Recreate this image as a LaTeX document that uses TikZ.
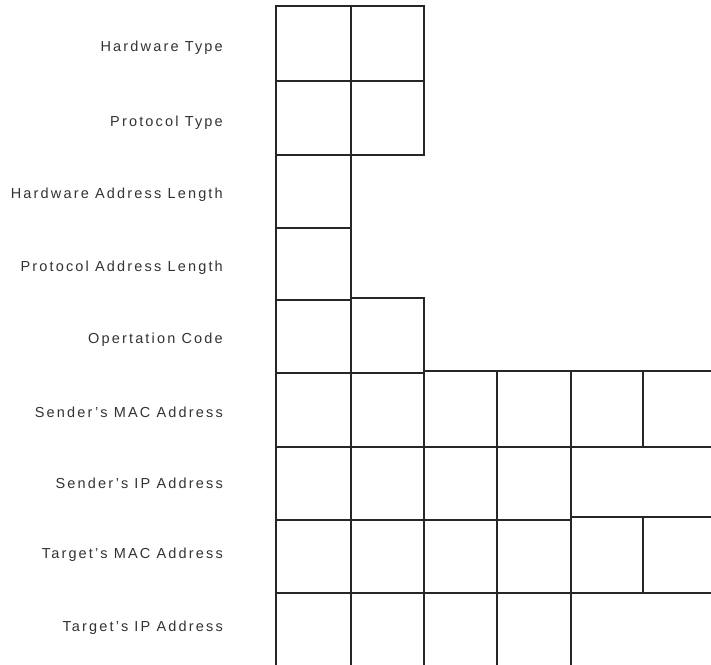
\documentclass[tikz,border=0pt]{standalone}
\usepackage{fontspec}
\setmainfont{Liberation Sans}[LetterSpace=15]
\begin{document}
\begin{tikzpicture}[x=1pt,y=-1pt,
  field/.style={anchor=east,inner sep=0pt,text=black!80,font=\fontsize{14.5}{16}\selectfont},
  grid/.style={line width=1.6pt,black!85,line cap=rect}]
\useasboundingbox[fill=white] (0,0) rectangle (711,664);
% labels
\node[field] (ht)  at (223,48)  {Hardware Type};
\node[field] (pt)  at (223,123) {Protocol Type};
\node[field] (hal) at (223,195) {Hardware Address Length};
\node[field] (pal) at (223,268) {Protocol Address Length};
\node[field] (op)  at (223,340) {Opertation Code};
\node[field] (smac) at (223,412) {Sender's MAC Address};
\node[field] (sip) at (223,483) {Sender's IP Address};
\node[field] (tmac) at (223,555) {Target's MAC Address};
\node[field] (tip) at (223,628) {Target's IP Address};
% verticals
\draw[grid] (276,6) -- (276,680);
\draw[grid] (351,6) -- (351,680);
\draw[grid] (424,6) -- (424,155);
\draw[grid] (424,298) -- (424,680);
\draw[grid] (497,371) -- (497,680);
\draw[grid] (571,371) -- (571,680);
\draw[grid] (643,371) -- (643,447);
\draw[grid] (643,517) -- (643,593);
% horizontals
\draw[grid] (276,6) -- (424,6);
\draw[grid] (276,81) -- (424,81);
\draw[grid] (276,155) -- (424,155);
\draw[grid] (276,228) -- (351,228);
\draw[grid] (276,300) -- (351,300);
\draw[grid] (351,298) -- (424,298);
\draw[grid] (276,373) -- (424,373);
\draw[grid] (424,371) -- (720,371);
\draw[grid] (276,447) -- (720,447);
\draw[grid] (276,520) -- (571,520);
\draw[grid] (571,517) -- (720,517);
\draw[grid] (276,593) -- (720,593);
\end{tikzpicture}
\end{document}
